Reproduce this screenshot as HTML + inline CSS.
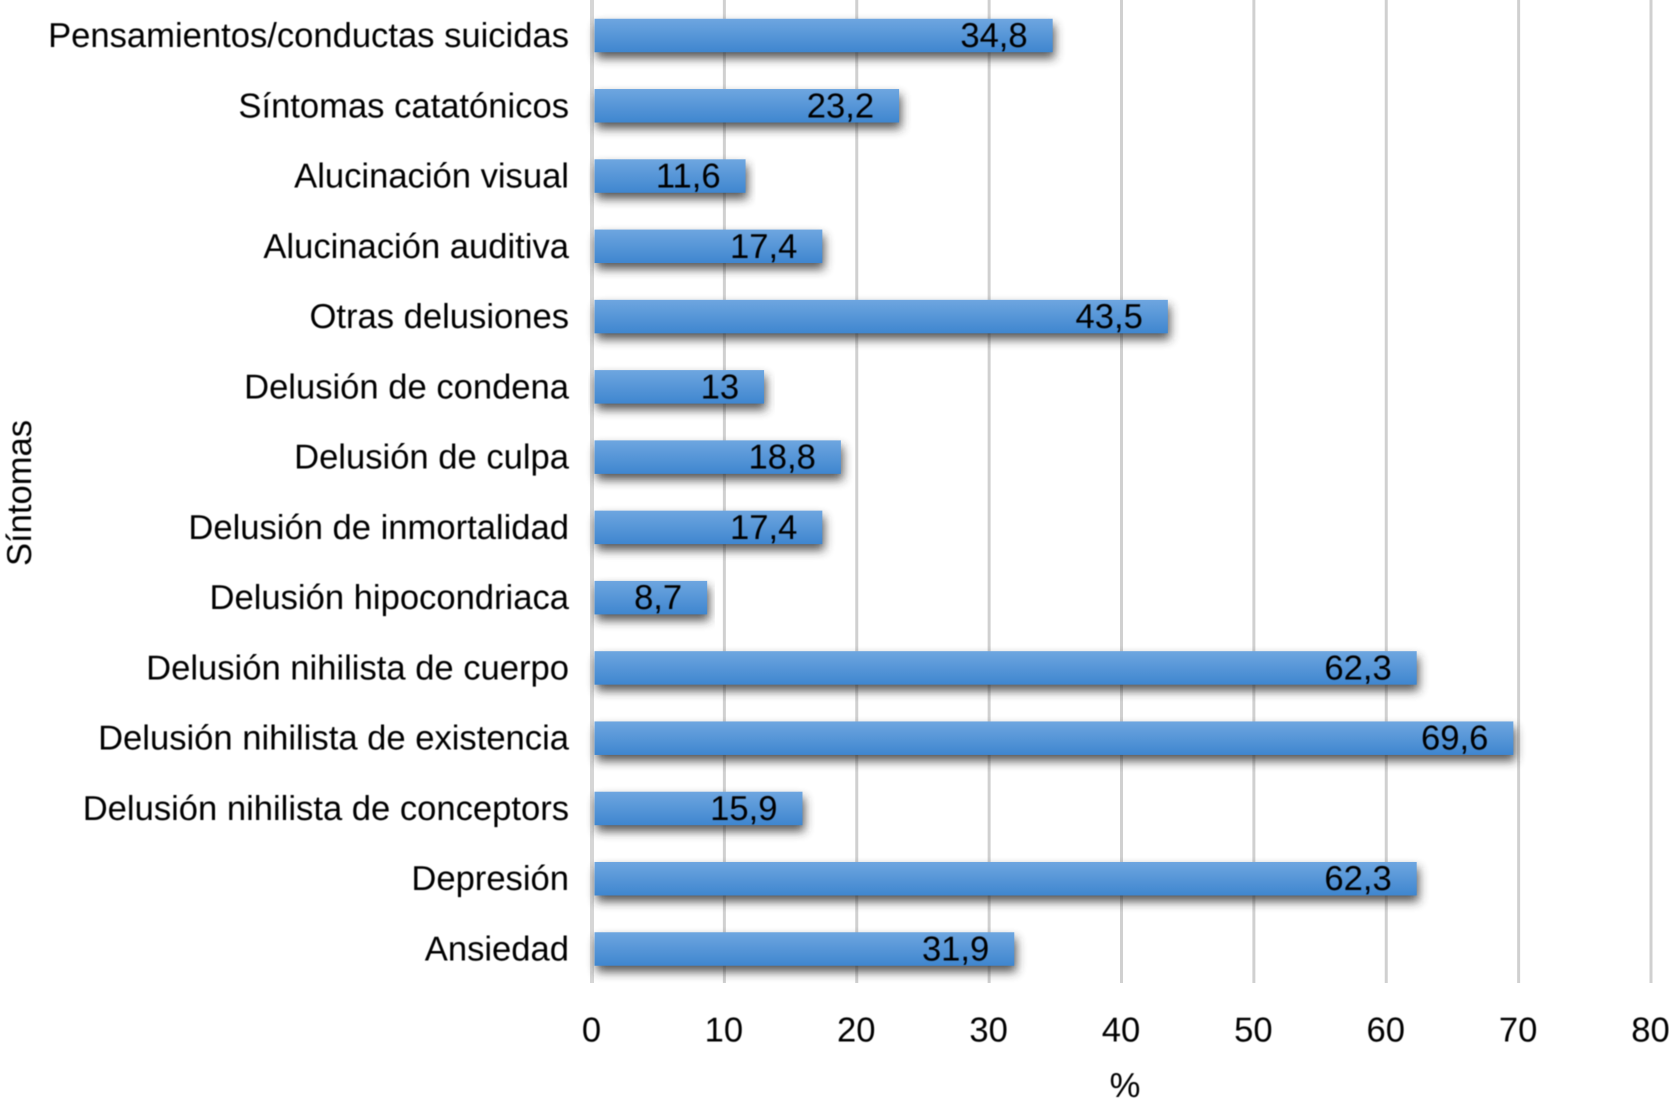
<!DOCTYPE html>
<html lang="es">
<head>
<meta charset="utf-8">
<title>Síntomas</title>
<style>
html,body{margin:0;padding:0;background:#fff;width:1669px;height:1104px;overflow:hidden}
svg{display:block}
text{font-family:"Liberation Sans",Arial,sans-serif;font-size:34.6px;fill:#050505;text-rendering:geometricPrecision}
</style>
</head>
<body>
<svg id="chart" xmlns="http://www.w3.org/2000/svg" width="1669" height="1104" viewBox="0 0 1669 1104">
<defs>
<linearGradient id="barFill" x1="0" y1="0" x2="0" y2="1">
<stop offset="0" stop-color="#6ea6e0"/>
<stop offset="1" stop-color="#3f86cf"/>
</linearGradient>
<filter id="barShadow" x="-5%" y="-50%" width="110%" height="240%">
<feGaussianBlur stdDeviation="5"/>
</filter>
<filter id="soft" x="-5%" y="-20%" width="110%" height="140%">
<feGaussianBlur stdDeviation="0.45"/>
</filter>
</defs>
<g id="grid"></g>
<g id="bars"></g>
<g id="labels" filter="url(#soft)"></g>
</svg>
<script>
const categories = ["Pensamientos/conductas suicidas","Síntomas catatónicos","Alucinación visual","Alucinación auditiva","Otras delusiones","Delusión de condena","Delusión de culpa","Delusión de inmortalidad","Delusión hipocondriaca","Delusión nihilista de cuerpo","Delusión nihilista de existencia","Delusión nihilista de conceptors","Depresión","Ansiedad"];
const seriesValues = [34.8,23.2,11.6,17.4,43.5,13,18.8,17.4,8.7,62.3,69.6,15.9,62.3,31.9];
const tickLabels = [0,10,20,30,40,50,60,70,80];
const xTitle = "%";
const yTitle = "Síntomas";

const SVG_NS = "http://www.w3.org/2000/svg";
const gridG = document.getElementById("grid");
const barsG = document.getElementById("bars");
const labelsG = document.getElementById("labels");
const xMax = tickLabels[tickLabels.length - 1];
const x0 = 592, x1 = 1651;
const firstCenter = 35.5, lastCenter = 949;
const barH = 33.5;
function xScale(v){ return x0 + (v / xMax) * (x1 - x0); }
function yScale(i){ return firstCenter + i * (lastCenter - firstCenter) / (categories.length - 1); }
function mk(tag, attrs, parent){
  const el = document.createElementNS(SVG_NS, tag);
  for (const k in attrs) el.setAttribute(k, attrs[k]);
  parent.appendChild(el);
  return el;
}
tickLabels.forEach(function(t){
  const line = mk("line", {x1:xScale(t), x2:xScale(t), y1:0, y2:983, stroke: t === 0 ? "#d6d6d6" : "#d0d0d0", "stroke-width": t === 0 ? 4 : 3}, gridG);
  
  
  const label = mk("text", {x:xScale(t) - 0.5, y:1041.5, "text-anchor":"middle"}, labelsG);
  label.textContent = String(t);
  
  
});
categories.forEach(function(c, i){
  const v = seriesValues[i];
  const cy = yScale(i);
  const barStart = x0 + 2.5;
  const barEnd = xScale(v);
  const shadow = mk("rect", {x:barStart + 2, y:cy - barH / 2 + 6, width:Math.max(0, barEnd - barStart), height:barH, fill:"#2a2a2a", opacity:0.8, filter:"url(#barShadow)"}, barsG);
  
  
  const bar = mk("rect", {x:barStart, y:cy - barH / 2, width:Math.max(0, barEnd - barStart), height:barH, fill:"url(#barFill)"}, barsG);
  
  
  const cat = mk("text", {x:569, y:cy + 11.5, "text-anchor":"end"}, labelsG);
  cat.textContent = c;
  
  
  const val = mk("text", {x:barEnd - 25, y:cy + 11.5, "text-anchor":"end"}, labelsG);
  val.textContent = String(v).replace(".", ",");
  
  
});
const xt = mk("text", {x:1125, y:1097, "text-anchor":"middle"}, labelsG);
xt.textContent = xTitle;


const yt = mk("text", {x:0, y:0, "text-anchor":"middle", transform:"translate(31 493) rotate(-90)"}, labelsG);
yt.textContent = yTitle;


</script>
</body>
</html>
